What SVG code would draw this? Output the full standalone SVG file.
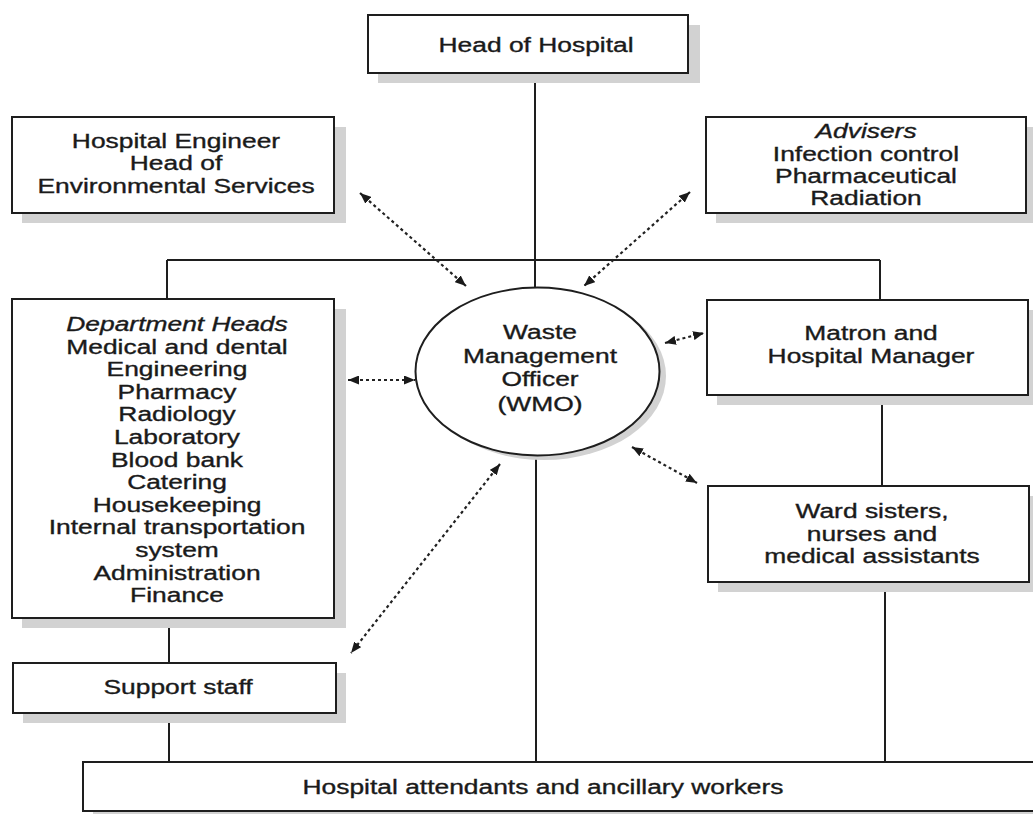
<svg xmlns="http://www.w3.org/2000/svg" width="1033" height="814" viewBox="0 0 1033 814">
<style>
  .box { fill: #ffffff; stroke: #1e1e1e; stroke-width: 2; }
  .shadow { fill: #d2d2d2; }
  .line { fill: none; stroke: #1e1e1e; stroke-width: 2; }
  .dash { fill: none; stroke: #222222; stroke-width: 2.2; stroke-dasharray: 3 3; marker-start: url(#ah); marker-end: url(#ah); }
  text { font-family: "Liberation Sans", Arial, sans-serif; font-size: 20px; fill: #1a1a1a; stroke: #1a1a1a; stroke-width: 0.35; text-anchor: middle; }
  .it { font-style: italic; }
</style>
<defs>
  <marker id="ah" viewBox="0 0 11 9" refX="11" refY="4.5" markerWidth="11" markerHeight="9" markerUnits="userSpaceOnUse" orient="auto-start-reverse">
    <path d="M0,0 L11,4.5 L0,9 z" fill="#1a1a1a"/>
  </marker>
</defs>
<rect width="1033" height="814" fill="#ffffff"/>

<g id="connectors">
  <path class="line" d="M535 73 V288"/>
  <path class="line" d="M167 260 H880"/>
  <path class="line" d="M167 260 V299"/>
  <path class="line" d="M880 260 V300"/>
  <path class="line" d="M882 395 V486"/>
  <path class="line" d="M169 618 V663"/>
  <path class="line" d="M169 713 V762"/>
  <path class="line" d="M536 455 V762"/>
  <path class="line" d="M885 582 V762"/>
  <path class="dash" d="M360 193 L466 286"/>
  <path class="dash" d="M690 192 L584 286"/>
  <path class="dash" d="M348 380 L415 380"/>
  <path class="dash" d="M665 343 L704 333"/>
  <path class="dash" d="M632 447 L697 483"/>
  <path class="dash" d="M500 464 L351 653"/>
</g>

<g id="head-of-hospital">
  <rect class="shadow" x="378" y="25" width="322" height="58"/>
  <rect class="box" x="368" y="15" width="320" height="58"/>
  <g transform="translate(536,0) scale(1.32,1)"><text x="0" y="52">Head of Hospital</text></g>
</g>

<g id="hospital-engineer">
  <rect class="shadow" x="22" y="127" width="324" height="96"/>
  <rect class="box" x="12" y="117" width="322" height="96"/>
  <g transform="translate(176,0) scale(1.32,1)">
    <text x="0" y="148">Hospital Engineer</text>
    <text x="0" y="170">Head of</text>
    <text x="0" y="193">Environmental Services</text>
  </g>
</g>

<g id="advisers">
  <rect class="shadow" x="716" y="127" width="320" height="96"/>
  <rect class="box" x="706" y="117" width="320" height="96"/>
  <g transform="translate(866,0) scale(1.32,1)">
    <text class="it" x="0" y="138">Advisers</text>
    <text x="0" y="161">Infection control</text>
    <text x="0" y="183">Pharmaceutical</text>
    <text x="0" y="205">Radiation</text>
  </g>
</g>

<g id="department-heads">
  <rect class="shadow" x="22" y="309" width="324" height="319"/>
  <rect class="box" x="12" y="299" width="322" height="319"/>
  <g transform="translate(177,0) scale(1.32,1)">
    <text class="it" x="0" y="331">Department Heads</text>
    <text x="0" y="353.6">Medical and dental</text>
    <text x="0" y="376.2">Engineering</text>
    <text x="0" y="398.8">Pharmacy</text>
    <text x="0" y="421.4">Radiology</text>
    <text x="0" y="444">Laboratory</text>
    <text x="0" y="466.6">Blood bank</text>
    <text x="0" y="489.2">Catering</text>
    <text x="0" y="511.8">Housekeeping</text>
    <text x="0" y="534.4">Internal transportation</text>
    <text x="0" y="557">system</text>
    <text x="0" y="579.6">Administration</text>
    <text x="0" y="602.2">Finance</text>
  </g>
</g>

<g id="wmo">
  <ellipse class="shadow" cx="544" cy="376" rx="122" ry="84"/>
  <ellipse class="box" cx="537.5" cy="371.5" rx="122" ry="84"/>
  <g transform="translate(540,0) scale(1.32,1)">
    <text x="0" y="339">Waste</text>
    <text x="0" y="363">Management</text>
    <text x="0" y="386">Officer</text>
    <text x="0" y="411">(WMO)</text>
  </g>
</g>

<g id="matron">
  <rect class="shadow" x="717" y="310" width="321" height="95"/>
  <rect class="box" x="707" y="300" width="321" height="95"/>
  <g transform="translate(871,0) scale(1.32,1)">
    <text x="0" y="340">Matron and</text>
    <text x="0" y="363">Hospital Manager</text>
  </g>
</g>

<g id="ward-sisters">
  <rect class="shadow" x="718" y="496" width="321" height="96"/>
  <rect class="box" x="708" y="486" width="321" height="96"/>
  <g transform="translate(872,0) scale(1.32,1)">
    <text x="0" y="518">Ward sisters,</text>
    <text x="0" y="541">nurses and</text>
    <text x="0" y="563">medical assistants</text>
  </g>
</g>

<g id="support-staff">
  <rect class="shadow" x="23" y="673" width="323" height="50"/>
  <rect class="box" x="13" y="663" width="323" height="50"/>
  <g transform="translate(178,0) scale(1.32,1)"><text x="0" y="694">Support staff</text></g>
</g>

<g id="hospital-attendants">
  <rect class="shadow" x="93" y="772" width="960" height="50"/>
  <rect class="box" x="83" y="762" width="960" height="49"/>
  <g transform="translate(543,0) scale(1.32,1)"><text x="0" y="794">Hospital attendants and ancillary workers</text></g>
</g>
</svg>
